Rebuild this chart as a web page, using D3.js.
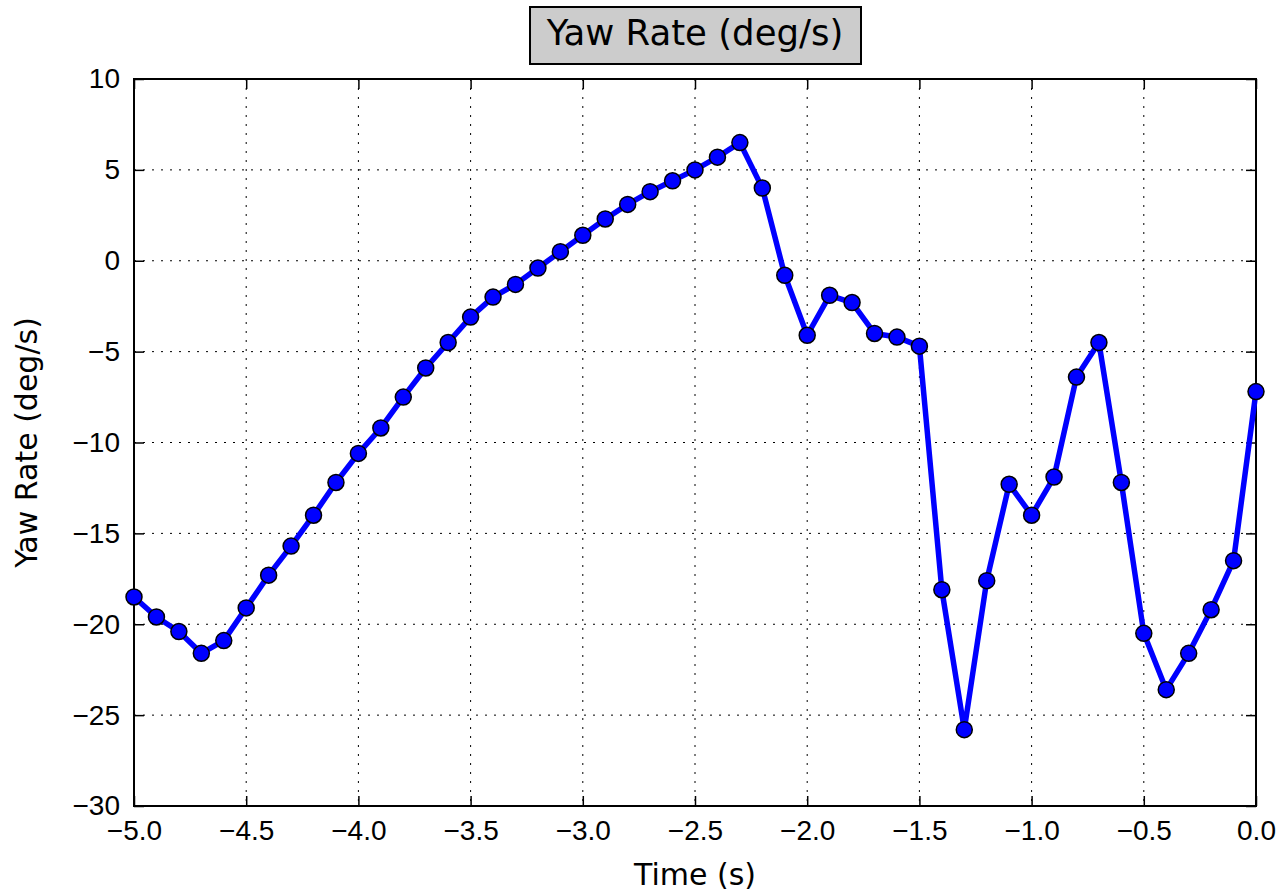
<!DOCTYPE html>
<html lang="en">

<head>
    <meta charset="UTF-8">
    <title>Yaw Rate (deg/s)</title>
    <script src="https://d3js.org/d3.v7.min.js"></script>
    <style>
        body { margin: 0; background: #fff; }
        svg { display: block; font-family: "DejaVu Sans", sans-serif; }
    </style>
</head>

<body>
    <div id="chart"></div>

    <script type="text/javascript">

        // time stamps (s), one sample every 0.1 s
        let times = [-5.0, -4.9, -4.8, -4.7, -4.6, -4.5, -4.4, -4.3, -4.2, -4.1,
            -4.0, -3.9, -3.8, -3.7, -3.6, -3.5, -3.4, -3.3, -3.2, -3.1,
            -3.0, -2.9, -2.8, -2.7, -2.6, -2.5, -2.4, -2.3, -2.2, -2.1,
            -2.0, -1.9, -1.8, -1.7, -1.6, -1.5, -1.4, -1.3, -1.2, -1.1,
            -1.0, -0.9, -0.8, -0.7, -0.6, -0.5, -0.4, -0.3, -0.2, -0.1, 0.0];

        // yaw rate (deg/s)
        let yawRate = [-18.5, -19.6, -20.4, -21.6, -20.9, -19.1, -17.3, -15.7, -14.0, -12.2,
            -10.6, -9.2, -7.5, -5.9, -4.5, -3.1, -2.0, -1.3, -0.4, 0.5,
            1.4, 2.3, 3.1, 3.8, 4.4, 5.0, 5.7, 6.5, 4.0, -0.8,
            -4.1, -1.9, -2.3, -4.0, -4.2, -4.7, -18.1, -25.8, -17.6, -12.3,
            -14.0, -11.9, -6.4, -4.5, -12.2, -20.5, -23.6, -21.6, -19.2, -16.5, -7.2];

        let xTicks = [-5.0, -4.5, -4.0, -3.5, -3.0, -2.5, -2.0, -1.5, -1.0, -0.5, 0.0];
        let yTicks = [-30, -25, -20, -15, -10, -5, 0, 5, 10];

        let width = 1282, height = 892;
        let mLeft = 134, mRight = 1256, mTop = 79, mBottom = 806;

        let svg = d3.select("#chart").append("svg")
            .attr("width", width)
            .attr("height", height);

        let x = d3.scaleLinear().domain([-5, 0]).range([mLeft, mRight]);
        let y = d3.scaleLinear().domain([-30, 10]).range([mBottom, mTop]);

        // dotted grid
        let grid = svg.append("g")
            .attr("stroke", "#000")
            .attr("stroke-width", 1)
            .attr("stroke-dasharray", "2,7");
        grid.selectAll(".gx").data(xTicks).enter().append("line")
            .attr("x1", d => x(d)).attr("x2", d => x(d))
            .attr("y1", mTop).attr("y2", mBottom);
        grid.selectAll(".gy").data(yTicks).enter().append("line")
            .attr("x1", mLeft).attr("x2", mRight)
            .attr("y1", d => y(d)).attr("y2", d => y(d));

        // axes, ticks pointing inward like matplotlib classic
        function styleAxis(g) {
            g.select(".domain").remove();
            g.selectAll(".tick line").attr("stroke", "#000").attr("stroke-width", 1.5);
            g.selectAll(".tick text").attr("fill", "#000").style("font-size", "28px");
        }

        svg.append("g")
            .attr("transform", "translate(0," + mBottom + ")")
            .call(d3.axisBottom(x).tickValues(xTicks).tickSize(-10).tickPadding(14).tickFormat(d3.format(".1f")))
            .call(styleAxis);
        svg.append("g")
            .attr("transform", "translate(0," + mTop + ")")
            .call(d3.axisTop(x).tickValues(xTicks).tickSize(-10).tickFormat(""))
            .call(styleAxis);
        svg.append("g")
            .attr("transform", "translate(" + mLeft + ",0)")
            .call(d3.axisLeft(y).tickValues(yTicks).tickSize(-10).tickPadding(14).tickFormat(d3.format("d")))
            .call(styleAxis);
        svg.append("g")
            .attr("transform", "translate(" + mRight + ",0)")
            .call(d3.axisRight(y).tickValues(yTicks).tickSize(-10).tickFormat(""))
            .call(styleAxis);

        // frame
        svg.append("rect")
            .attr("x", mLeft).attr("y", mTop)
            .attr("width", mRight - mLeft).attr("height", mBottom - mTop)
            .attr("fill", "none")
            .attr("stroke", "#000")
            .attr("stroke-width", 2);

        let data = times.map((t, i) => ({ t: t, v: yawRate[i] }));

        let line = d3.line()
            .x(d => x(d.t))
            .y(d => y(d.v));

        svg.append("path")
            .datum(data)
            .attr("d", line)
            .attr("fill", "none")
            .attr("stroke", "#0000ff")
            .attr("stroke-width", 5.5)
            .attr("stroke-linejoin", "round");

        svg.selectAll(".dot").data(data).enter().append("circle")
            .attr("cx", d => x(d.t))
            .attr("cy", d => y(d.v))
            .attr("r", 8)
            .attr("fill", "#0000ff")
            .attr("stroke", "#000")
            .attr("stroke-width", 1.5);

        // title box
        svg.append("rect")
            .attr("x", 530).attr("y", 7)
            .attr("width", 331).attr("height", 57)
            .attr("fill", "#cccccc")
            .attr("stroke", "#000")
            .attr("stroke-width", 2);
        svg.append("text")
            .attr("x", (mLeft + mRight) / 2)
            .attr("y", 45)
            .attr("text-anchor", "middle")
            .style("font-size", "35.5px")
            .attr("fill", "#000")
            .text("Yaw Rate (deg/s)");

        // axis labels
        svg.append("text")
            .attr("x", (mLeft + mRight) / 2)
            .attr("y", 885)
            .attr("text-anchor", "middle")
            .style("font-size", "30px")
            .text("Time (s)");
        svg.append("text")
            .attr("transform", "translate(37," + (mTop + mBottom) / 2 + ") rotate(-90)")
            .attr("text-anchor", "middle")
            .style("font-size", "30px")
            .text("Yaw Rate (deg/s)");

    </script>
</body>

</html>
